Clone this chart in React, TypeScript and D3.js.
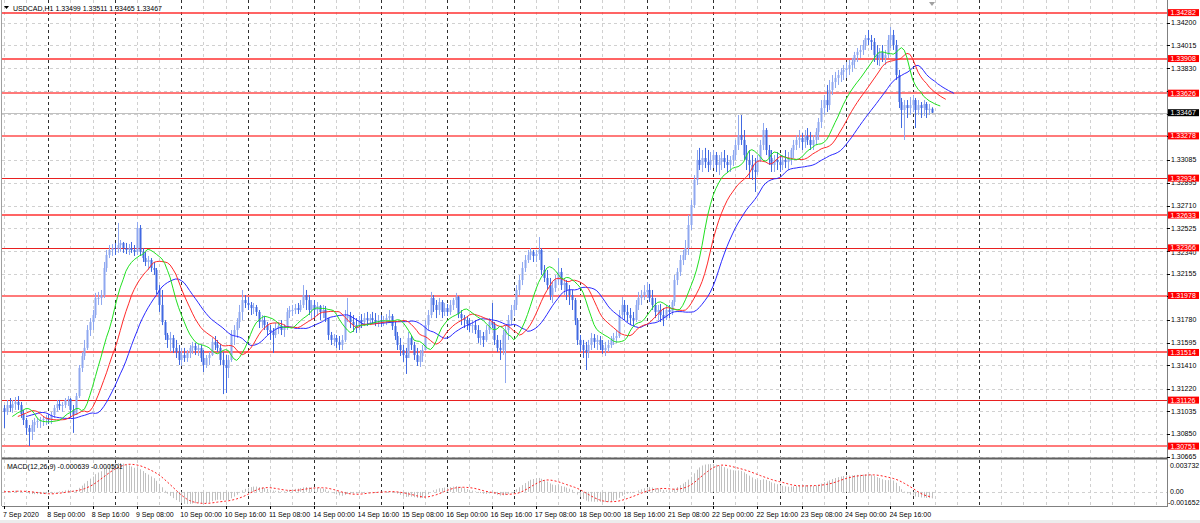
import React, { useMemo } from 'react';
import * as d3 from 'd3';

// ---- OHLC data, H1 bars, each entry: [high, low, close]; open = previous close ----
const firstOpen = 1.3106;
const sep07 = [
  [1.31086,1.30899,1.31030],[1.31127,1.31005,1.31086],[1.31143,1.31030,1.31062],[1.31127,1.31022,1.31094],
  [1.31151,1.31046,1.31111],[1.31159,1.31046,1.31086],[1.31111,1.30981,1.31013],[1.31046,1.30923,1.30964],
  [1.30981,1.30842,1.30899],[1.30923,1.30752,1.30867],[1.30964,1.30801,1.30923],[1.30981,1.30867,1.30948],
  [1.30981,1.30899,1.30956],[1.30989,1.30899,1.30964],[1.30997,1.30915,1.30973],[1.31005,1.30923,1.30981],
];
const sep08 = [
  [1.31013,1.30931,1.30964],[1.31030,1.30931,1.31005],[1.31086,1.30981,1.31062],[1.31127,1.31030,1.31094],
  [1.31127,1.31046,1.31078],[1.31111,1.31030,1.31086],[1.31143,1.31062,1.31127],[1.31159,1.31078,1.31135],
  [1.31143,1.30981,1.31046],[1.31086,1.30859,1.31005],[1.31184,1.31005,1.31159],[1.31412,1.31143,1.31388],
  [1.31518,1.31355,1.31485],[1.31616,1.31453,1.31551],[1.31737,1.31534,1.31697],[1.31794,1.31648,1.31762],
  [1.31860,1.31697,1.31819],[1.31999,1.31794,1.31958],[1.32007,1.31901,1.31958],[1.32023,1.31901,1.31982],
  [1.32251,1.31958,1.32202],[1.32349,1.32170,1.32308],[1.32389,1.32283,1.32349],[1.32397,1.32300,1.32365],
];
const sep09 = [
  [1.32406,1.32308,1.32357],[1.32569,1.32325,1.32389],[1.32430,1.32333,1.32406],[1.32414,1.32325,1.32365],
  [1.32406,1.32316,1.32349],[1.32397,1.32308,1.32365],[1.32414,1.32325,1.32349],[1.32389,1.32300,1.32333],
  [1.32577,1.32308,1.32528],[1.32552,1.32300,1.32333],[1.32365,1.32251,1.32283],[1.32333,1.32218,1.32251],
  [1.32300,1.32186,1.32267],[1.32283,1.32170,1.32202],[1.32251,1.32145,1.32186],[1.32202,1.31990,1.32023],
  [1.32063,1.31844,1.31901],[1.32023,1.31737,1.31762],[1.31778,1.31616,1.31656],[1.31673,1.31551,1.31616],
  [1.31681,1.31518,1.31632],[1.31656,1.31510,1.31551],[1.31616,1.31469,1.31518],[1.31575,1.31412,1.31453],
];
const sep10 = [
  [1.31551,1.31404,1.31493],[1.31551,1.31437,1.31469],[1.31534,1.31437,1.31510],[1.31575,1.31469,1.31551],
  [1.31600,1.31502,1.31567],[1.31592,1.31493,1.31534],[1.31583,1.31485,1.31551],[1.31575,1.31437,1.31469],
  [1.31534,1.31355,1.31412],[1.31493,1.31388,1.31469],[1.31518,1.31412,1.31493],[1.31632,1.31485,1.31600],
  [1.31648,1.31534,1.31575],[1.31616,1.31518,1.31551],[1.31583,1.31412,1.31453],[1.31518,1.31175,1.31412],
  [1.31493,1.31184,1.31388],[1.31493,1.31306,1.31453],[1.31697,1.31437,1.31656],[1.31737,1.31575,1.31697],
  [1.31794,1.31632,1.31762],[1.31901,1.31713,1.31844],[1.32023,1.31778,1.31941],[1.31982,1.31876,1.31917],
];
const sep11 = [
  [1.31966,1.31860,1.31901],[1.31925,1.31819,1.31876],[1.31917,1.31827,1.31884],[1.31901,1.31811,1.31844],
  [1.31860,1.31713,1.31762],[1.31819,1.31713,1.31778],[1.31811,1.31697,1.31737],[1.31762,1.31656,1.31697],
  [1.31737,1.31616,1.31681],[1.31713,1.31510,1.31656],[1.31754,1.31632,1.31713],[1.31762,1.31664,1.31729],
  [1.31778,1.31656,1.31697],[1.31745,1.31640,1.31713],[1.31876,1.31697,1.31844],[1.31892,1.31794,1.31860],
  [1.31901,1.31811,1.31860],[1.31909,1.31827,1.31876],[1.31917,1.31827,1.31860],[1.31941,1.31844,1.31901],
  [1.32063,1.31876,1.31982],[1.32023,1.31860,1.31941],[1.31982,1.31819,1.31860],[1.31941,1.31778,1.31901],
];
const sep14 = [
  [1.31941,1.31794,1.31860],[1.31925,1.31811,1.31892],[1.31901,1.31778,1.31844],[1.31901,1.31794,1.31860],
  [1.31892,1.31762,1.31794],[1.31794,1.31616,1.31656],[1.31681,1.31575,1.31616],[1.31664,1.31567,1.31632],
  [1.31656,1.31551,1.31600],[1.31648,1.31534,1.31575],[1.31656,1.31534,1.31616],[1.31860,1.31600,1.31794],
  [1.31958,1.31762,1.31811],[1.31844,1.31713,1.31762],[1.31819,1.31681,1.31737],[1.31794,1.31673,1.31713],
  [1.31811,1.31697,1.31778],[1.31827,1.31713,1.31762],[1.31835,1.31729,1.31794],[1.31844,1.31729,1.31778],
  [1.31827,1.31737,1.31794],[1.31844,1.31745,1.31778],[1.31835,1.31729,1.31762],[1.31819,1.31721,1.31778],
];
const sep15 = [
  [1.31819,1.31721,1.31762],[1.31811,1.31729,1.31778],[1.31827,1.31737,1.31794],[1.31860,1.31762,1.31811],
  [1.31827,1.31697,1.31729],[1.31762,1.31616,1.31648],[1.31681,1.31534,1.31575],[1.31632,1.31485,1.31534],
  [1.31575,1.31437,1.31493],[1.31551,1.31339,1.31469],[1.31681,1.31469,1.31632],[1.31656,1.31534,1.31575],
  [1.31600,1.31453,1.31493],[1.31551,1.31404,1.31437],[1.31534,1.31396,1.31485],[1.31575,1.31437,1.31534],
  [1.31778,1.31534,1.31737],[1.31860,1.31697,1.31819],[1.32007,1.31794,1.31958],[1.31982,1.31844,1.31901],
  [1.31941,1.31794,1.31860],[1.31958,1.31819,1.31925],[1.31941,1.31794,1.31844],[1.31917,1.31811,1.31876],
];
const sep16 = [
  [1.31909,1.31811,1.31844],[1.31941,1.31819,1.31901],[1.31958,1.31860,1.31941],[1.31999,1.31876,1.31966],
  [1.31974,1.31794,1.31827],[1.31860,1.31737,1.31794],[1.31819,1.31713,1.31778],[1.31811,1.31697,1.31745],
  [1.31794,1.31681,1.31729],[1.31778,1.31673,1.31737],[1.31778,1.31664,1.31697],[1.31737,1.31592,1.31632],
  [1.31697,1.31575,1.31648],[1.31681,1.31559,1.31616],[1.31737,1.31600,1.31697],[1.31794,1.31664,1.31762],
  [1.31917,1.31713,1.31737],[1.31762,1.31575,1.31616],[1.31656,1.31518,1.31551],[1.31616,1.31453,1.31534],
  [1.31697,1.31493,1.31656],[1.31737,1.31265,1.31697],[1.31819,1.31616,1.31778],[1.31901,1.31737,1.31860],
];
const sep17 = [
  [1.31941,1.31811,1.31901],[1.32063,1.31860,1.32023],[1.32145,1.31982,1.32104],[1.32251,1.32063,1.32202],
  [1.32308,1.32170,1.32267],[1.32349,1.32243,1.32308],[1.32365,1.32267,1.32333],[1.32349,1.32251,1.32300],
  [1.32349,1.32251,1.32316],[1.32454,1.32267,1.32349],[1.32365,1.32145,1.32186],[1.32226,1.32088,1.32121],
  [1.32186,1.32023,1.32063],[1.32121,1.31941,1.31982],[1.32088,1.31917,1.32039],[1.32145,1.32007,1.32104],
  [1.32283,1.32063,1.32170],[1.32202,1.32023,1.32063],[1.32121,1.31982,1.32080],[1.32104,1.31941,1.32023],
  [1.32063,1.31901,1.31982],[1.32023,1.31860,1.31941],[1.31958,1.31737,1.31778],[1.31794,1.31575,1.31616],
];
const sep18 = [
  [1.31656,1.31518,1.31575],[1.31616,1.31469,1.31534],[1.31600,1.31371,1.31518],[1.31616,1.31469,1.31575],
  [1.31673,1.31534,1.31632],[1.31664,1.31551,1.31600],[1.31656,1.31534,1.31616],[1.31648,1.31534,1.31575],
  [1.31616,1.31502,1.31534],[1.31600,1.31485,1.31551],[1.31616,1.31518,1.31575],[1.31648,1.31551,1.31616],
  [1.31673,1.31575,1.31632],[1.31697,1.31592,1.31648],[1.31860,1.31632,1.31819],[1.31966,1.31794,1.31901],
  [1.31941,1.31778,1.31844],[1.31901,1.31762,1.31819],[1.31876,1.31737,1.31794],[1.31844,1.31729,1.31778],
  [1.31941,1.31762,1.31901],[1.32007,1.31860,1.31958],[1.32023,1.31901,1.31982],[1.32063,1.31941,1.32007],
];
const sep21 = [
  [1.32088,1.31958,1.32023],[1.32072,1.31925,1.31958],[1.32023,1.31860,1.31901],[1.31958,1.31794,1.31844],
  [1.31901,1.31778,1.31860],[1.31909,1.31762,1.31819],[1.31876,1.31729,1.31794],[1.31901,1.31778,1.31860],
  [1.31901,1.31794,1.31844],[1.31941,1.31819,1.31925],[1.32145,1.31892,1.32104],[1.32202,1.32063,1.32170],
  [1.32308,1.32137,1.32267],[1.32349,1.32226,1.32308],[1.32430,1.32267,1.32365],[1.32634,1.32308,1.32552],
  [1.32756,1.32512,1.32715],[1.32959,1.32691,1.32919],[1.33163,1.32878,1.33082],[1.33180,1.33000,1.33041],
  [1.33163,1.32984,1.33098],[1.33180,1.33016,1.33065],[1.33163,1.32984,1.33041],[1.33147,1.33000,1.33082],
];
const sep22 = [
  [1.33163,1.33016,1.33122],[1.33147,1.32984,1.33041],[1.33122,1.32959,1.33065],[1.33147,1.33000,1.33098],
  [1.33163,1.33016,1.33065],[1.33122,1.32984,1.33041],[1.33114,1.32984,1.33082],[1.33163,1.33033,1.33122],
  [1.33245,1.33082,1.33204],[1.33448,1.33163,1.33285],[1.33448,1.33204,1.33245],[1.33326,1.33082,1.33122],
  [1.33204,1.33000,1.33082],[1.33163,1.32935,1.33041],[1.33122,1.32919,1.33000],[1.33098,1.32821,1.32984],
  [1.33122,1.32959,1.33082],[1.33245,1.33065,1.33204],[1.33383,1.33163,1.33326],[1.33342,1.33122,1.33163],
  [1.33204,1.33041,1.33098],[1.33163,1.32984,1.33041],[1.33122,1.32984,1.33082],[1.33147,1.33000,1.33065],
];
const sep23 = [
  [1.33122,1.32984,1.33041],[1.33122,1.33000,1.33082],[1.33163,1.33016,1.33065],[1.33147,1.33000,1.33098],
  [1.33180,1.33041,1.33163],[1.33245,1.33098,1.33204],[1.33285,1.33163,1.33245],[1.33326,1.33180,1.33261],
  [1.33302,1.33163,1.33228],[1.33326,1.33180,1.33277],[1.33342,1.33204,1.33245],[1.33310,1.33163,1.33204],
  [1.33285,1.33163,1.33245],[1.33342,1.33204,1.33310],[1.33424,1.33245,1.33391],[1.33570,1.33342,1.33505],
  [1.33611,1.33448,1.33570],[1.33693,1.33473,1.33529],[1.33733,1.33489,1.33652],[1.33774,1.33611,1.33717],
  [1.33799,1.33668,1.33750],[1.33815,1.33693,1.33774],[1.33831,1.33717,1.33799],[1.33855,1.33733,1.33815],
];
const sep24 = [
  [1.33880,1.33750,1.33831],[1.33896,1.33774,1.33855],[1.33913,1.33799,1.33880],[1.33962,1.33831,1.33937],
  [1.33994,1.33880,1.33962],[1.34018,1.33913,1.33978],[1.34059,1.33937,1.34018],[1.34100,1.33978,1.34075],
  [1.34141,1.34018,1.34059],[1.34100,1.33978,1.34043],[1.34075,1.33880,1.33937],[1.34018,1.33855,1.33913],
  [1.33994,1.33847,1.33962],[1.34018,1.33880,1.33913],[1.33978,1.33855,1.33937],[1.34100,1.33913,1.34059],
  [1.34165,1.33994,1.34100],[1.34141,1.33978,1.34018],[1.34059,1.33733,1.33774],[1.33815,1.33505,1.33554],
  [1.33587,1.33342,1.33489],[1.33570,1.33245,1.33529],[1.33570,1.33424,1.33505],[1.33595,1.33448,1.33529],
];
const sep25 = [
  [1.33611,1.33473,1.33570],[1.33587,1.33342,1.33489],[1.33570,1.33448,1.33529],[1.33554,1.33424,1.33505],
  [1.33570,1.33440,1.33538],[1.33554,1.33424,1.33489],[1.33538,1.33448,1.33499],[1.33511,1.33465,1.33467],
];
const dayBlocks = [sep07, sep08, sep09, sep10, sep11, sep14, sep15, sep16, sep17, sep18, sep21, sep22, sep23, sep24, sep25];

// axis ticks that are not hidden behind a level label
const priceTicks = [1.342, 1.34015, 1.3383, 1.33085, 1.32895, 1.3271, 1.32525, 1.3234,
  1.32155, 1.3178, 1.31595, 1.3141, 1.3122, 1.31035, 1.3085, 1.30665];
// grid positions (every axis step, incl. the ones covered by labels)
const gridTicks = [1.342, 1.34015, 1.3383, 1.33645, 1.3346, 1.33275, 1.33085, 1.32895, 1.3271, 1.32525, 1.3234,
  1.32155, 1.3197, 1.3178, 1.31595, 1.3141, 1.3122, 1.31035, 1.3085, 1.30665];
const levelRed = [1.34282, 1.33908, 1.32633, 1.31514];
const levelThin = [1.32934, 1.32366, 1.31126];
const levelPink = [1.33626, 1.33278, 1.31978, 1.30751];
const bidPrice = 1.33467;
const timeLabels = ['7 Sep 2020', '8 Sep 00:00', '8 Sep 16:00', '9 Sep 08:00', '10 Sep 00:00', '10 Sep 16:00',
  '11 Sep 08:00', '14 Sep 00:00', '14 Sep 16:00', '15 Sep 08:00', '16 Sep 00:00', '16 Sep 16:00', '17 Sep 08:00',
  '18 Sep 00:00', '18 Sep 16:00', '21 Sep 08:00', '22 Sep 00:00', '22 Sep 16:00', '23 Sep 08:00', '24 Sep 00:00',
  '24 Sep 16:00'];
const macdLabels = [0.003732, 0.0, -0.001652];
// Alligator: jaw (blue) 13/8, teeth (red) 8/5, lips (green) 5/3 — smoothed MA of median price
const alligator = [
  { period: 13, shift: 8, color: '#2a2aff' },
  { period: 8, shift: 5, color: '#ff2a2a' },
  { period: 5, shift: 3, color: '#20e020' },
];

const FONT = 'Liberation Sans, Arial, sans-serif';

function sma(v: number[], n: number) {
  return v.map((_, i) => {
    const s = Math.max(0, i - n + 1);
    return d3.mean(v.slice(s, i + 1)) as number;
  });
}
function ema(v: number[], n: number) {
  const k = 2 / (n + 1);
  let e = v[0];
  return v.map((x, i) => (i === 0 ? e : (e = x * k + e * (1 - k))));
}
function smma(v: number[], n: number) {
  let s = v[0];
  return v.map((x, i) => (i === 0 ? s : (s = (s * (n - 1) + x) / n)));
}

export default function App() {
  const bars = useMemo(() => {
    const flat = dayBlocks.flat();
    let prev = firstOpen;
    return flat.map(([h, l, c], i) => {
      const o = prev;
      prev = c;
      return { i, o, c, h: Math.max(h, o, c), l: Math.min(l, o, c) };
    });
  }, []);

  const L = 2, R = 1167, T = 0, MB = 457.5, MT = 460, MBOT = 506;
  const x = d3.scaleLinear().domain([0, 336]).range([4, 4 + 336 * 2.77]);
  const y = d3.scaleLinear().domain([1.30665, 1.342]).range([456.7, 22.7]);
  const ym = d3.scaleLinear().domain([-0.001652, 0.003732]).range([MBOT, MT]);

  const closes = bars.map((b) => b.c);
  const medians = bars.map((b) => (b.h + b.l) / 2);
  const e12 = ema(closes, 12), e26 = ema(closes, 26);
  const macd = e12.map((v, i) => v - e26[i]);
  const signal = sma(macd, 9);

  const shiftedLine = (arr: number[], shift: number) =>
    d3.line<number>().x((_, i) => x(i + shift)).y((d) => y(d))(arr) || '';
  const sigPath = d3.line<number>().x((_, i) => x(i)).y((d) => ym(d))(signal) || '';

  const gridBars: number[] = [];
  for (let b = 0; x(b) < R; b += 8) gridBars.push(b);
  const isDay = (b: number) => b >= 16 && (b - 16) % 24 === 0 && b <= 352;

  return (
    <svg width={1200} height={523} style={{ position: 'absolute', left: 0, top: 0, background: '#fff' }}
      fontFamily={FONT}>
      <defs>
        <clipPath id="mainClip"><rect x={L} y={T} width={R - L} height={MB - T} /></clipPath>
        <clipPath id="macdClip"><rect x={L} y={MT} width={R - L} height={MBOT - MT} /></clipPath>
      </defs>
      <rect x={0} y={0} width={1200} height={523} fill="#fff" />
      <rect x={0} y={520} width={1200} height={3} fill="#ececec" />

      {/* horizontal grid */}
      {gridTicks.map((p) => (
        <line key={'hg' + p} x1={L} x2={R} y1={Math.round(y(p)) + 0.5} y2={Math.round(y(p)) + 0.5}
          stroke="#d0d0d0" strokeDasharray="3,3" />
      ))}
      <line x1={L} x2={R} y1={Math.round(ym(0)) + 0.5} y2={Math.round(ym(0)) + 0.5} stroke="#d0d0d0" strokeDasharray="3,3" />

      {/* vertical grid */}
      {gridBars.map((b) => (
        <g key={'vg' + b}>
          <line x1={Math.round(x(b)) + 0.5} x2={Math.round(x(b)) + 0.5} y1={T} y2={MB - 1}
            stroke={isDay(b) ? '#303030' : '#d0d0d0'} strokeDasharray="3,3" />
          <line x1={Math.round(x(b)) + 0.5} x2={Math.round(x(b)) + 0.5} y1={MT} y2={MBOT}
            stroke={isDay(b) ? '#303030' : '#d0d0d0'} strokeDasharray="3,3" />
        </g>
      ))}

      <g clipPath="url(#mainClip)">
        {/* level lines */}
        {levelPink.map((p) => (
          <line key={'lk' + p} x1={L} x2={R} y1={Math.round(y(p))} y2={Math.round(y(p))} stroke="#ff7a7a" strokeWidth={2} />
        ))}
        {levelRed.map((p) => (
          <line key={'lr' + p} x1={L} x2={R} y1={Math.round(y(p))} y2={Math.round(y(p))} stroke="#ff3030" strokeWidth={1.6} />
        ))}
        {levelThin.map((p) => (
          <line key={'ln' + p} x1={L} x2={R} y1={Math.round(y(p)) + 0.5} y2={Math.round(y(p)) + 0.5} stroke="#e82020" strokeWidth={1} />
        ))}
        <line x1={L} x2={R} y1={Math.round(y(bidPrice)) + 0.5} y2={Math.round(y(bidPrice)) + 0.5} stroke="#c0c0c0" />

        {/* candles */}
        {bars.map((b) => {
          const cx = Math.round(x(b.i));
          const up = b.c >= b.o;
          const col = up ? '#8fa8f0' : '#4169e1';
          const top = y(Math.max(b.o, b.c));
          const bot = y(Math.min(b.o, b.c));
          return (
            <g key={'c' + b.i}>
              <line x1={cx + 0.5} x2={cx + 0.5} y1={y(b.h)} y2={y(b.l)} stroke={col} strokeWidth={1} />
              <rect x={cx - 0.5} y={top} width={2} height={Math.max(1, bot - top)} fill={col} />
            </g>
          );
        })}

        {/* Alligator lines */}
        {alligator.map((a) => (
          <path key={'al' + a.period} d={shiftedLine(smma(medians, a.period), a.shift)} fill="none"
            stroke={a.color} strokeWidth={1} />
        ))}
      </g>

      {/* MACD panel */}
      <g clipPath="url(#macdClip)">
        {macd.map((v, i) => (
          <line key={'h' + i} x1={Math.round(x(i)) + 0.5} x2={Math.round(x(i)) + 0.5} y1={ym(0)} y2={ym(v)} stroke="#c0c0c0" />
        ))}
        <path d={sigPath} fill="none" stroke="#ff2020" strokeWidth={1} strokeDasharray="2,2" />
      </g>

      {/* frames */}
      <rect x={L} y={MB} width={R - L} height={2} fill="#606060" />
      <line x1={R + 0.5} x2={R + 0.5} y1={0} y2={MBOT + 1} stroke="#808080" />
      <line x1={L} x2={R + 1} y1={MBOT + 0.5} y2={MBOT + 0.5} stroke="#808080" />
      <line x1={1.5} x2={1.5} y1={0} y2={MBOT} stroke="#a0a0a0" />

      {/* title */}
      <path d="M4,6 L9,6 L6.5,9 Z" fill="#000" />
      <text x={13} y={10.5} fontSize={7} fill="#000">USDCAD,H1  1.33499 1.33511 1.33465 1.33467</text>
      <text x={7} y={469} fontSize={7} fill="#000">MACD(12,26,9) -0.000639 -0.000501</text>
      <path d="M929,2 L935,2 L932,6 Z" fill="#a0a0a0" />

      {/* price axis */}
      {gridTicks.map((p) => (
        <line key={'ptk' + p} x1={R} x2={R + 3} y1={Math.round(y(p)) + 0.5} y2={Math.round(y(p)) + 0.5} stroke="#000" />
      ))}
      {priceTicks.map((p) => (
        <text key={'pt' + p} x={1171} y={y(p) + (p === 1.3234 ? 3.5 : 2.5)} fontSize={7} fill="#000">{p.toFixed(5)}</text>
      ))}
      {[...levelRed, ...levelThin, ...levelPink].map((p) => (
        <g key={'lb' + p}>
          <rect x={1168} y={y(p) - 3.5} width={31} height={7} fill="#ff0000" />
          <text x={1170.5} y={y(p) + 2.5} fontSize={7} fill="#fff">{p.toFixed(5)}</text>
        </g>
      ))}
      <rect x={1168} y={y(bidPrice) - 3.5} width={31} height={7} fill="#000" />
      <text x={1170.5} y={y(bidPrice) + 2.5} fontSize={7} fill="#fff">{bidPrice.toFixed(5)}</text>

      {/* MACD axis */}
      <text x={1170} y={467.5} fontSize={7} fill="#000">{macdLabels[0].toFixed(6)}</text>
      <text x={1170} y={ym(0) + 2.5} fontSize={7} fill="#000">0.00</text>
      <text x={1168} y={505} fontSize={7} fill="#000">{macdLabels[2].toFixed(6)}</text>

      {/* time axis */}
      {timeLabels.map((t, k) => (
        <g key={'t' + k}>
          <line x1={Math.round(x(k * 16)) + 0.5} x2={Math.round(x(k * 16)) + 0.5} y1={MBOT} y2={MBOT + 3} stroke="#000" />
          <text x={x(k * 16) - 1} y={517} fontSize={7} fill="#000">{t}</text>
        </g>
      ))}
    </svg>
  );
}
